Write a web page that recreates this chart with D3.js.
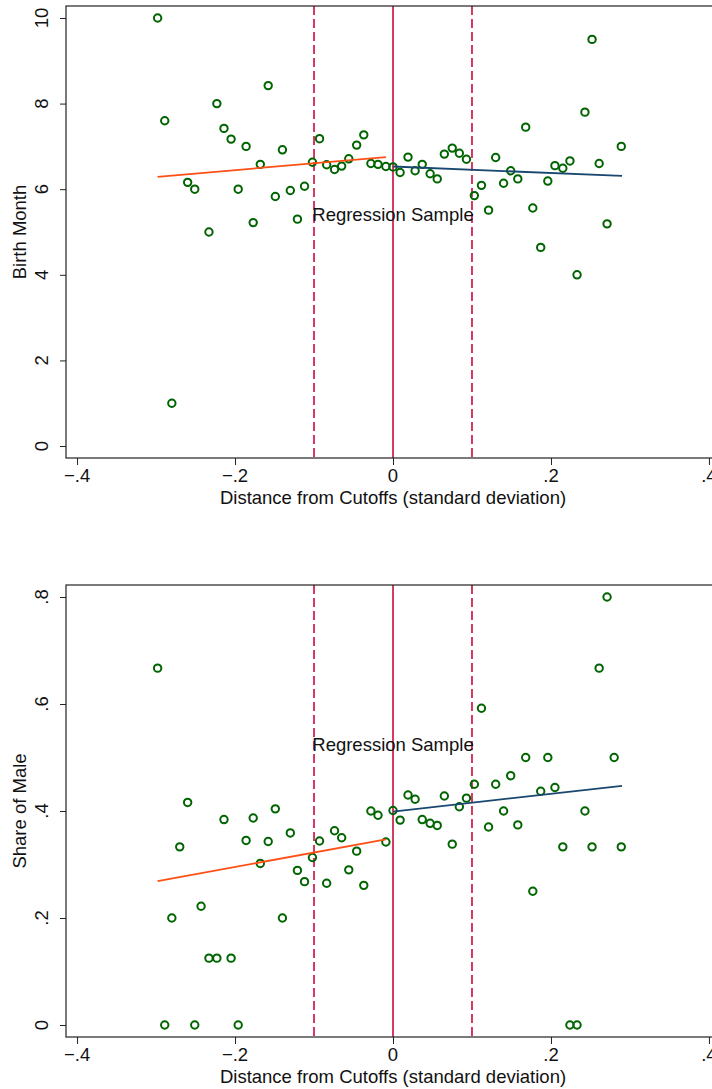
<!DOCTYPE html>
<html lang="en">
<head>
<meta charset="UTF-8">
<title>Birth Month and Share of Male around Cutoffs</title>
<script src="https://d3js.org/d3.v7.min.js"></script>
<style>
    body { margin: 0; background: #fff; }
    svg text { font-family: "Liberation Sans", Arial, Helvetica, sans-serif; fill: #111; }
    .frame { fill: none; stroke: #222; stroke-width: 1.2px; }
    .tick line { stroke: #222; }
</style>
</head>
<body>
<div id="chart"></div>
<script>
// bins (distance from cutoff, sd units)
const binX = [-0.298, -0.289, -0.280, -0.270, -0.260, -0.251, -0.243, -0.233, -0.223, -0.214,
              -0.205, -0.196, -0.186, -0.177, -0.168, -0.158, -0.149, -0.140, -0.130, -0.121,
              -0.112, -0.102, -0.093, -0.084, -0.074, -0.065, -0.056, -0.046, -0.037, -0.028,
              -0.019, -0.009, 0.000, 0.009, 0.019, 0.028, 0.037, 0.047, 0.056, 0.065,
              0.075, 0.084, 0.093, 0.103, 0.112, 0.121, 0.130, 0.140, 0.149, 0.158,
              0.168, 0.177, 0.187, 0.196, 0.205, 0.215, 0.224, 0.233, 0.243, 0.252,
              0.261, 0.271, 0.280, 0.289];

// mean birth month per bin (null = no marker)
const birthMonth = [10.0, 7.6, 1.0, null, 6.16, 6.0, null, 5.0, 8.0, 7.42,
                    7.17, 6.0, 7.0, 5.22, 6.58, 8.42, 5.83, 6.92, 5.97, 5.3,
                    6.07, 6.63, 7.18, 6.57, 6.46, 6.54, 6.71, 7.03, 7.27, 6.6,
                    6.58, 6.53, 6.52, 6.39, 6.75, 6.43, 6.58, 6.36, 6.24, 6.82,
                    6.96, 6.84, 6.7, 5.85, 6.09, 5.51, 6.74, 6.14, 6.43, 6.24,
                    7.45, 5.56, 4.64, 6.19, 6.55, 6.49, 6.66, 4.0, 7.8, 9.5,
                    6.6, 5.19, null, 7.0];

// share of male per bin
const shareMale = [0.667, 0, 0.2, 0.333, 0.416, 0, 0.222, 0.125, 0.125, 0.384,
                   0.125, 0, 0.345, 0.387, 0.302, 0.343, 0.404, 0.2, 0.359, 0.289,
                   0.268, 0.313, 0.344, 0.265, 0.363, 0.35, 0.29, 0.325, 0.261, 0.4,
                   0.392, 0.342, 0.401, 0.383, 0.43, 0.422, 0.384, 0.377, 0.373, 0.428,
                   0.338, 0.408, 0.424, 0.45, 0.592, 0.37, 0.45, 0.4, 0.466, 0.374,
                   0.5, 0.25, 0.437, 0.5, 0.444, 0.333, 0, 0, 0.4, 0.333,
                   0.667, 0.8, 0.5, 0.333];

// linear fits on each side of the cutoff: [x0, x1], [y0, y1]
const fitLeftX = [-0.298, -0.009];
const fitRightX = [0.000, 0.290];
const bmFitLeft = [6.29, 6.75];
const bmFitRight = [6.53, 6.31];
const smFitLeft = [0.269, 0.347];
const smFitRight = [0.399, 0.447];

const xTicks = [-0.4, -0.2, 0, 0.2, 0.4];
const bmTicks = [0, 2, 4, 6, 8, 10];
const smTicks = [0, 0.2, 0.4, 0.6, 0.8];
const cutoffLines = [-0.1, 0, 0.1];

const W = 712, H = 1089;
const fontSize = 18.5;
const green = "#006400", orange = "#ff4f14", navy = "#1a476f", red = "#cc0a3c";

const svg = d3.select("#chart").append("svg").attr("width", W).attr("height", H);

// Stata style labels: "-.4", ".2", "10"
const fmt = v => {
    if (v === 0) return "0";
    const s = d3.format("~g")(Math.abs(v)).replace(/^0\./, ".");
    return (v < 0 ? "\u2212" : "") + s;
};

function panel(opts) {
    const left = 66, right = 720, top = opts.top, bottom = opts.bottom;
    const x = d3.scaleLinear().domain([-0.414, 0.414]).range([left, right]);
    const y = d3.scaleLinear().domain(opts.yDomain).range([bottom, top]);
    const g = svg.append("g");

    // y axis: rotated tick labels
    const yAx = g.append("g").attr("transform", `translate(${left},0)`)
        .call(d3.axisLeft(y).tickValues(opts.yTicks).tickSize(6).tickFormat(""));
    yAx.select(".domain").remove();
    g.selectAll(null).data(opts.yTicks).join("text")
        .attr("transform", d => `translate(${left - 18},${y(d)}) rotate(-90)`)
        .attr("text-anchor", "middle")
        .style("font-size", fontSize + "px")
        .text(fmt);

    // x axis
    const xAx = g.append("g").attr("transform", `translate(0,${bottom})`)
        .call(d3.axisBottom(x).tickValues(xTicks).tickSize(7).tickFormat(""));
    xAx.select(".domain").remove();
    g.selectAll(null).data(xTicks).join("text")
        .attr("x", d => x(d))
        .attr("y", bottom + 24)
        .attr("text-anchor", "middle")
        .style("font-size", fontSize + "px")
        .text(fmt);

    // axis titles
    g.append("text")
        .attr("x", (left + right) / 2)
        .attr("y", bottom + 46)
        .attr("text-anchor", "middle")
        .style("font-size", fontSize + "px")
        .text("Distance from Cutoffs (standard deviation)");
    g.append("text")
        .attr("transform", `translate(26,${(top + bottom) / 2}) rotate(-90)`)
        .attr("text-anchor", "middle")
        .style("font-size", fontSize + "px")
        .text(opts.yTitle);

    // cutoff and bandwidth lines
    g.selectAll(null).data(cutoffLines).join("line")
        .attr("x1", d => x(d)).attr("x2", d => x(d))
        .attr("y1", top).attr("y2", bottom)
        .attr("stroke", red)
        .attr("stroke-width", 1.6)
        .attr("stroke-dasharray", d => d === 0 ? null : "9,4");

    g.append("text")
        .attr("x", x(0))
        .attr("y", opts.labelY)
        .attr("text-anchor", "middle")
        .style("font-size", fontSize + "px")
        .text("Regression Sample");

    // binned means
    const pts = binX.map((v, i) => ({ x: v, y: opts.values[i] })).filter(d => d.y !== null);
    g.selectAll(null).data(pts).join("circle")
        .attr("cx", d => x(d.x))
        .attr("cy", d => y(d.y))
        .attr("r", 3.7)
        .attr("fill", "none")
        .attr("stroke", green)
        .attr("stroke-width", 2);

    // fitted lines
    const line = d3.line().x(d => x(d[0])).y(d => y(d[1]));
    g.append("path")
        .attr("d", line(d3.zip(fitLeftX, opts.fitLeft)))
        .attr("fill", "none").attr("stroke", orange).attr("stroke-width", 1.8);
    g.append("path")
        .attr("d", line(d3.zip(fitRightX, opts.fitRight)))
        .attr("fill", "none").attr("stroke", navy).attr("stroke-width", 1.8);

    // plot frame
    g.append("rect").attr("class", "frame")
        .attr("x", left).attr("y", top)
        .attr("width", right - left).attr("height", bottom - top);
}

panel({ top: 6, bottom: 458, yDomain: [-0.28, 10.28], yTicks: bmTicks,
        values: birthMonth, fitLeft: bmFitLeft, fitRight: bmFitRight,
        yTitle: "Birth Month", labelY: 221 });

panel({ top: 585, bottom: 1037, yDomain: [-0.0224, 0.8224], yTicks: smTicks,
        values: shareMale, fitLeft: smFitLeft, fitRight: smFitRight,
        yTitle: "Share of Male", labelY: 751 });
</script>
</body>
</html>
